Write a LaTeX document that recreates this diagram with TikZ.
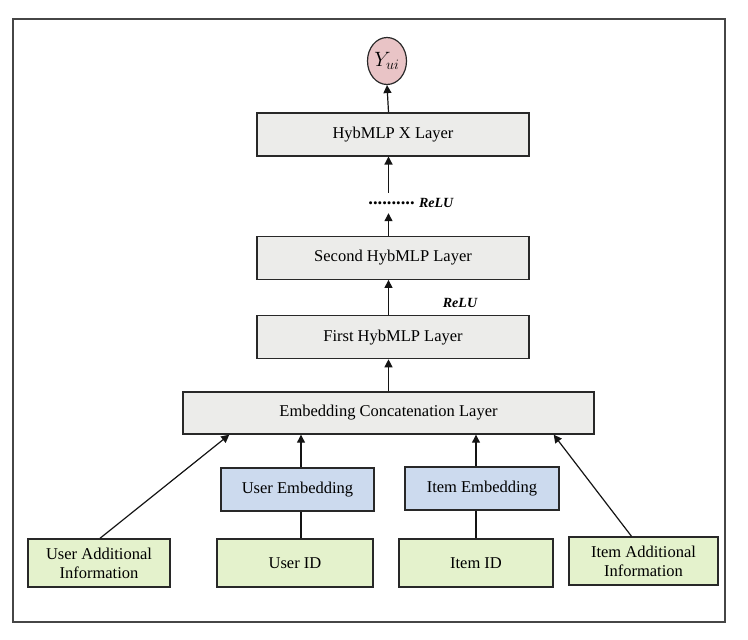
\documentclass[tikz,border=0pt]{standalone}
\usepackage{fontspec}
\setmainfont{Liberation Serif}
\usepackage{tikz}
\usetikzlibrary{
  positioning,
  arrows.meta,
  shapes.geometric
}
\definecolor{layerbg}{RGB}{236,236,234}
\definecolor{embbg}{RGB}{204,218,238}
\definecolor{inputbg}{RGB}{228,242,204}
\definecolor{outbg}{RGB}{233,196,198}
\definecolor{boxline}{RGB}{40,40,40}
\definecolor{framecolor}{RGB}{70,70,70}
\definecolor{arrowcolor}{RGB}{20,20,20}
\tikzset{
  layerbox/.style={
    draw=boxline, fill=layerbg, line width=1.4pt,
    minimum width=272pt, minimum height=43pt,
    font=\fontsize{16.5}{19}\selectfont, align=center
  },
  embbox/.style={
    draw=boxline, fill=embbg, line width=1.4pt,
    minimum width=153pt, minimum height=43pt,
    font=\fontsize{16.5}{19}\selectfont, align=center
  },
  inputbox/.style={
    draw=boxline, fill=inputbg, line width=1.4pt,
    minimum width=154pt, minimum height=48pt,
    font=\fontsize{16.5}{19}\selectfont, align=center
  },
  outnode/.style={
    ellipse, draw=boxline, fill=outbg, line width=1.2pt,
    minimum width=39pt, minimum height=47pt, inner sep=0pt,
    font=\fontsize{21}{24}\selectfont
  },
  relulabel/.style={
    font=\fontsize{14}{16}\selectfont\bfseries\itshape, inner sep=0pt
  },
  bigarrow/.style={
    -{Triangle[width=8pt,length=8pt]}, line width=1.2pt, draw=arrowcolor
  },
  plainline/.style={
    line width=1.2pt, draw=arrowcolor
  },
  frameline/.style={
    line width=1.5pt, draw=framecolor
  }
}

\begin{document}
\begin{tikzpicture}[x=1pt, y=-1pt]

    \useasboundingbox (0,0) rectangle (748,640);
    \draw[frameline] (13,19) rectangle (725,622);

    % Inputs
    \node[inputbox, minimum width=142pt] (useradd) at (99,563) {User Additional\\Information};
    \node[inputbox, minimum width=156pt] (userid) at (295,563) {User ID};
    \node[inputbox] (itemid) at (476,563) {Item ID};
    \node[inputbox, minimum width=149pt] (itemadd) at (643.5,561) {Item Additional\\Information};

    % Embeddings
    \node[embbox] (useremb) at (297.5,489.5) {User Embedding};
    \node[embbox, minimum width=154pt] (itememb) at (482,488.5) {Item Embedding};

    % Concatenation + HybMLP stack
    \node[layerbox, minimum width=411pt, minimum height=42pt] (concat) at (388.5,413) {Embedding Concatenation Layer};
    \node[layerbox, above=32pt of concat, xshift=4.5pt] (first) {First HybMLP Layer};
    \node[layerbox, above=35pt of first] (second) {Second HybMLP Layer};
    \node[relulabel] (relu1) at (460,303) {ReLU};
    \node[inner sep=0pt, minimum height=20pt, font=\fontsize{18.5}{20}\selectfont\bfseries] (dots) at (391.5,203) {..........};
    \node[relulabel, right=4pt of dots] (relu2) {ReLU};
    \node[layerbox, above=79pt of second] (xlayer) {HybMLP X Layer};
    \node[outnode] (yui) at (387,61) {$Y_{ui}$};

    % Inputs -> embeddings
    \draw[plainline] (userid.north -| 301,0) -- (useremb.south -| 301,0);
    \draw[plainline] (itemid.north) -- (itemid.north |- itememb.south);

    % Arrows into concatenation
    \draw[bigarrow] ([xshift=1pt]useradd.north) -- ([xshift=47pt]concat.south west);
    \draw[bigarrow] (useremb.north -| 301,0) -- (concat.south -| 301,0);
    \draw[bigarrow] (itemid.north |- itememb.north) -- (itemid.north |- concat.south);
    \draw[bigarrow] ([xshift=-12pt]itemadd.north) -- ([xshift=-41pt]concat.south east);

    % Arrows up the stack
    \draw[bigarrow] (concat.north) -- (concat.north |- first.south);
    \draw[bigarrow] (concat.north |- first.north) -- (concat.north |- second.south);
    \draw[bigarrow] (concat.north |- second.north) -- (concat.north |- dots.south);
    \draw[bigarrow] (concat.north |- dots.north) -- (concat.north |- xlayer.south);
    \draw[bigarrow] (concat.north |- xlayer.north) -- (yui.south);

\end{tikzpicture}
\end{document}
